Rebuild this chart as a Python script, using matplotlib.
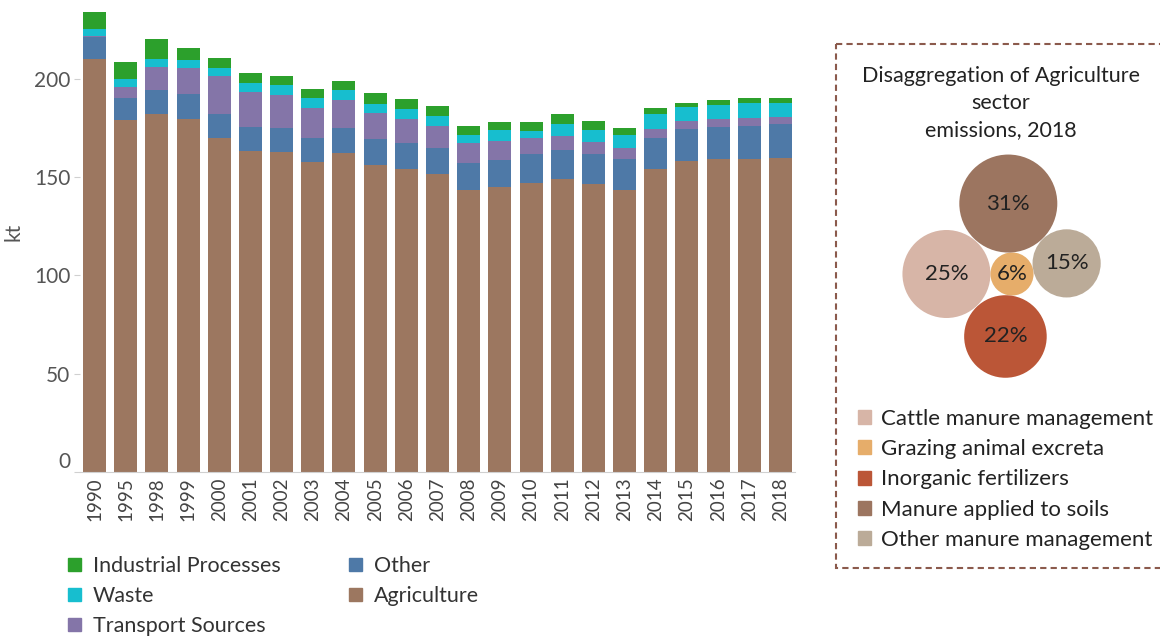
import matplotlib
matplotlib.use('Agg')
import matplotlib.pyplot as plt
import numpy as np
from matplotlib.patches import Circle, Rectangle, Patch

plt.rcParams['font.family'] = ['Lato', 'DejaVu Sans']

# emissions by sector, kt
years = ['1990', '1995', '1998', '1999', '2000', '2001', '2002', '2003', '2004', '2005', '2006', '2007',
         '2008', '2009', '2010', '2011', '2012', '2013', '2014', '2015', '2016', '2017', '2018']
agriculture = [210.2, 179.1, 182.1, 179.6, 170.1, 163.3, 162.8, 157.7, 162.2, 156.1, 154.1, 151.5,
               143.4, 144.9, 146.9, 149.0, 146.4, 143.4, 154.1, 158.2, 159.2, 159.2, 159.7]
other = [11.2, 11.2, 12.4, 12.7, 12.0, 12.2, 12.2, 12.2, 12.8, 13.3, 13.2, 13.3,
         13.7, 13.8, 14.8, 14.8, 15.3, 15.8, 15.8, 16.3, 16.3, 16.8, 17.3]
transport = [0.5, 5.6, 11.6, 13.3, 19.4, 17.9, 16.8, 15.3, 14.3, 13.3, 12.3, 11.2,
             10.2, 9.7, 8.2, 7.1, 6.2, 5.6, 4.6, 4.1, 4.1, 4.1, 3.6]
waste = [3.6, 4.1, 4.1, 4.1, 4.1, 4.6, 5.1, 5.1, 5.1, 4.5, 5.1, 5.1,
         4.1, 5.6, 3.6, 6.1, 6.1, 6.6, 7.6, 7.1, 7.1, 7.7, 7.2]
industrial = [8.5, 8.7, 10.2, 6.1, 5.1, 5.1, 4.6, 4.6, 4.6, 5.7, 5.1, 5.1,
              4.6, 4.1, 4.6, 5.1, 4.6, 3.6, 3.1, 2.1, 2.6, 2.5, 2.5]

series = [('Agriculture', agriculture, '#9c7760'),
          ('Other', other, '#4e79a7'),
          ('Transport Sources', transport, '#8475a8'),
          ('Waste', waste, '#17becf'),
          ('Industrial Processes', industrial, '#2ca02c')]
legend_order = ['Industrial Processes', 'Waste', 'Transport Sources', 'Other', 'Agriculture']

# agriculture breakdown 2018, %
ag_labels = ['Cattle manure management', 'Grazing animal excreta', 'Inorganic fertilizers',
             'Manure applied to soils', 'Other manure management']
ag_share = [25, 6, 22, 31, 15]
ag_colors = ['#d7b5a7', '#e6ad6a', '#bb5637', '#9c7560', '#bbab98']
ag_angle = [180, None, -96, 93, 11]   # where each bubble sits around the smallest one

W, H = 1160, 637
fig = plt.figure(figsize=(W / 100, H / 100), dpi=100)

# ---- stacked bars
ax = fig.add_axes([80 / W, (H - 472) / H, 715 / W, 462 / H])
x = np.arange(len(years))
bottom = np.zeros(len(years))
for name, vals, col in series:
    ax.bar(x, vals, 0.74, bottom=bottom, color=col, label=name)
    bottom += np.array(vals)

ax.set_xlim(-0.465, len(years) - 1 + 0.465)
ax.set_ylim(0, 235)
ax.set_yticks([0, 50, 100, 150, 200])
ax.set_xticks(x)
ax.set_xticklabels(years, rotation=90)
for s in ['top', 'right', 'left']:
    ax.spines[s].set_visible(False)
ax.spines['bottom'].set_color('#d0d0d0')
ax.tick_params(axis='y', length=4, color='#d0d0d0', labelsize=15, labelcolor='#555555', pad=3)
ax.tick_params(axis='x', length=0, labelsize=13.5, labelcolor='#444444', pad=4)
ax.get_yticklabels()[0].set_verticalalignment('bottom')
ax.set_ylabel('kt', fontsize=15, color='#555555')
ax.yaxis.set_label_coords(-56 / 715, 0.52)

# ---- overlay in pixel units for the right panel and legends
ov = fig.add_axes([0, 0, 1, 1])
ov.set_xlim(0, W)
ov.set_ylim(H, 0)
ov.axis('off')
ov.patch.set_alpha(0)

colors = {n: c for n, _, c in series}
leg1 = ov.legend([Patch(color=colors[n]) for n in legend_order],
                 legend_order, loc='upper left', bbox_to_anchor=(68, 556),
                 bbox_transform=ov.transData, ncol=2, frameon=False, fontsize=15.5,
                 handlelength=0.6, handleheight=0.6, handletextpad=0.55,
                 columnspacing=3.2, labelspacing=0.47, borderpad=0, borderaxespad=0,
                 labelcolor='#333333')
ov.add_artist(leg1)

ov.add_patch(Rectangle((836, 44), 340, 524, fill=False, edgecolor='#8b5a4c',
                       linestyle=(0, (3, 2)), lw=1.5, clip_on=False))
ov.text(1001, 103, 'Disaggregation of Agriculture\nsector\nemissions, 2018', ha='center',
        va='center', fontsize=15.5, linespacing=1.45, color='#222222')

k = 8.8
radii = [k * np.sqrt(p) for p in ag_share]
ci = int(np.argmin(ag_share))
cx, cy = 1012, 274
for i, (p, col) in enumerate(zip(ag_share, ag_colors)):
    if i == ci:
        px, py = cx, cy
    else:
        d = radii[ci] + radii[i]
        a = np.deg2rad(ag_angle[i])
        px, py = cx + d * np.cos(a), cy - d * np.sin(a)
    ov.add_patch(Circle((px, py), radii[i], color=col, lw=0))
    ov.text(px, py, f'{p}%', ha='center', va='center', fontsize=16, color='#222222')

ov.legend([Patch(color=c) for c in ag_colors], ag_labels, loc='upper left',
          bbox_to_anchor=(858, 409), bbox_transform=ov.transData, frameon=False,
          fontsize=16, handlelength=0.6, handleheight=0.6, handletextpad=0.45,
          labelspacing=0.46, borderpad=0, borderaxespad=0, labelcolor='#222222')

fig.savefig('out.png', dpi=100)
